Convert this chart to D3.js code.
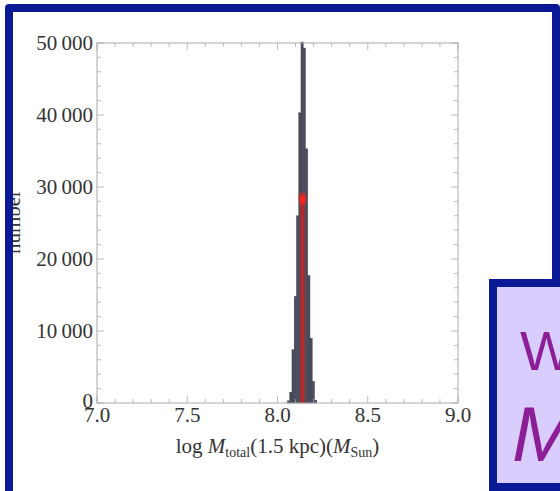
<!DOCTYPE html>
<html><head><meta charset="utf-8">
<script src="https://cdn.jsdelivr.net/npm/d3@7"></script>
<style>body{margin:0;background:#fff}svg{display:block}</style>
</head><body>
<svg id="c" width="560" height="491"></svg>
<script>
// ---- data ----
const binEdges = [8.055,8.0675,8.08,8.0925,8.105,8.1175,8.13,8.1425,8.155,8.1675,8.18,8.1925,8.205];
const binCounts = [300,1500,7400,14800,26000,40300,50500,49300,35300,17700,9000,3000,400];
const binWidth = 0.0125;
const markerX = [8.1385];
const markerY = [28500];
const xTicks = [7.0,7.5,8.0,8.5,9.0];
const xTickLabels = ["7.0","7.5","8.0","8.5","9.0"];
const yTicks = [0,10000,20000,30000,40000,50000];
const yTickLabels = ["0","10\u2009000","20\u2009000","30\u2009000","40\u2009000","50\u2009000"];
const sideText = ["W","M"];

const svg = d3.select("#c");
const L=97,R=458,T=43,B=403;
const x = d3.scaleLinear().domain([7,9]).range([L,R]);
const y = d3.scaleLinear().domain([0,50000]).range([B,T]);
const serif = "'Liberation Serif','DejaVu Serif',serif";
const fs = 21;

// y label (partly under the frame)
svg.append("text").attr("transform","translate(20,222) rotate(-90)")
  .attr("text-anchor","middle").attr("font-family",serif).attr("font-size",fs)
  .attr("fill","#333").text("number");

// bars
svg.append("g").selectAll("rect").data(binEdges).join("rect")
  .attr("x",(d)=>x(d)).attr("width",(d)=>x(d+binWidth)-x(d))
  .attr("y",(d,i)=>Math.max(T-1,y(binCounts[i]))).attr("height",(d,i)=>B-Math.max(T-1,y(binCounts[i])))
  .attr("fill","#4b4d5f").attr("stroke","#3a3b4a").attr("stroke-width",0.4);

// red marker line + glow
const defs=svg.append("defs");
const rg=defs.append("radialGradient").attr("id","glow");
rg.append("stop").attr("offset","0%").attr("stop-color","#ff2418").attr("stop-opacity",1);
rg.append("stop").attr("offset","50%").attr("stop-color","#ff2418").attr("stop-opacity",0.75);
rg.append("stop").attr("offset","100%").attr("stop-color","#ff2418").attr("stop-opacity",0);
svg.append("g").selectAll("rect").data(markerX).join("rect")
  .attr("x",d=>x(d)-2.2).attr("width",4.4).attr("y",(d,i)=>y(markerY[i])).attr("height",(d,i)=>B-y(markerY[i]))
  .attr("fill","#b3282b");
svg.append("g").selectAll("ellipse").data(markerX).join("ellipse")
  .attr("cx",d=>x(d)).attr("cy",(d,i)=>y(markerY[i])+1).attr("rx",5).attr("ry",8)
  .attr("fill","url(#glow)");

// frame
svg.append("rect").attr("x",L).attr("y",T).attr("width",R-L).attr("height",B-T)
  .attr("fill","none").attr("stroke","#aaa").attr("stroke-width",1);

// ticks
const tg = svg.append("g").attr("stroke","#aaa").attr("stroke-width",0.8);
const xMinor = d3.range(7,9.0001,0.1);
xMinor.forEach(v=>{
  const major = xTicks.some(t=>Math.abs(t-v)<1e-6);
  const len = major?7:4;
  tg.append("line").attr("x1",x(v)).attr("x2",x(v)).attr("y1",B).attr("y2",B-len);
  tg.append("line").attr("x1",x(v)).attr("x2",x(v)).attr("y1",T).attr("y2",T+len);
});
const yMinor = d3.range(0,50001,2000);
yMinor.forEach(v=>{
  const major = v%10000===0;
  const len = major?7:4;
  tg.append("line").attr("y1",y(v)).attr("y2",y(v)).attr("x1",L).attr("x2",L+len);
  tg.append("line").attr("y1",y(v)).attr("y2",y(v)).attr("x1",R).attr("x2",R-len);
});

// tick labels
svg.append("g").selectAll("text").data(xTicks).join("text")
  .attr("x",d=>x(d)).attr("y",B+19).attr("text-anchor","middle")
  .attr("font-family",serif).attr("font-size",fs).attr("fill","#333")
  .text((d,i)=>xTickLabels[i]);
svg.append("g").selectAll("text").data(yTicks).join("text")
  .attr("x",L-4).attr("y",(d)=>y(d)+(d===0?5:7)).attr("text-anchor","end")
  .attr("font-family",serif).attr("font-size",fs).attr("fill","#333")
  .text((d,i)=>yTickLabels[i]);

// x label
const xl = svg.append("text").attr("x",(L+R)/2).attr("y",B+50).attr("text-anchor","middle")
  .attr("font-family",serif).attr("font-size",fs).attr("fill","#333");
xl.append("tspan").text("log ");
xl.append("tspan").attr("font-style","italic").text("M");
xl.append("tspan").attr("font-size",14).attr("dy",4).text("total");
xl.append("tspan").attr("dy",-4).text("(1.5 kpc)(");
xl.append("tspan").attr("font-style","italic").text("M");
xl.append("tspan").attr("font-size",14).attr("dy",4).text("Sun");
xl.append("tspan").attr("dy",-4).text(")");

// outer blue frame
const blue="#0a1a96";
svg.append("path").attr("d","M9,495 L9,8 L556,8 L556,283")
  .attr("fill","none").attr("stroke",blue).attr("stroke-width",8).attr("stroke-linejoin","round");

// purple box
svg.append("rect").attr("x",493).attr("y",283).attr("width",80).attr("height",204)
  .attr("fill","#d8cdfd").attr("stroke",blue).attr("stroke-width",8);
svg.append("g").selectAll("text").data(sideText).join("text")
  .attr("x",(d,i)=>i===0?520:512).attr("y",(d,i)=>i===0?370:461)
  .attr("font-family","'Liberation Sans',Arial,sans-serif").attr("font-size",(d,i)=>i===0?56:78)
  .attr("font-style",(d,i)=>i===1?"italic":"normal")
  .attr("fill","#8c1e98").text(d=>d);
</script>
</body></html>
